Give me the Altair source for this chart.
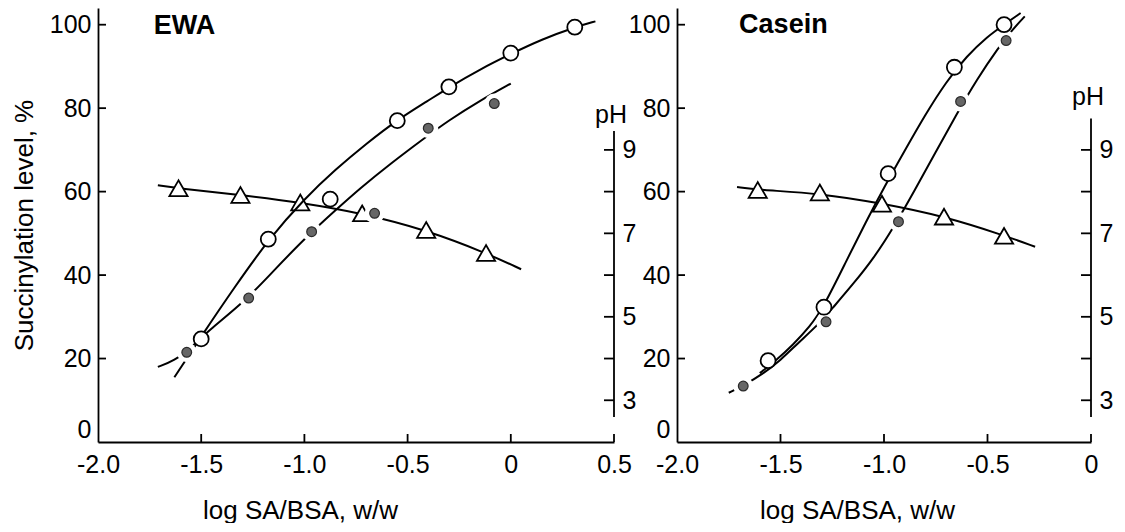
import altair as alt
import pandas as pd

FONT = "Liberation Sans"

# ---------------- EWA panel ----------------
ewa_open_x = [-1.50, -1.175, -0.875, -0.55, -0.30, 0.00, 0.31]
ewa_open_y = [24.7, 48.6, 58.2, 77.0, 85.1, 93.2, 99.4]
ewa_filled_x = [-1.57, -1.27, -0.965, -0.66, -0.40, -0.08]
ewa_filled_y = [21.5, 34.5, 50.4, 54.8, 75.2, 81.1]
ewa_tri_x = [-1.61, -1.31, -1.02, -0.72, -0.41, -0.12]
ewa_tri_ph = [8.08, 7.92, 7.74, 7.48, 7.08, 6.53]

ewa_open_curve_x = [-1.63, -1.50, -1.34, -1.17, -1.00, -0.85, -0.70, -0.55, -0.40, -0.30, -0.15, 0.00, 0.15, 0.31, 0.41]
ewa_open_curve_y = [15.5, 25.3, 37.0, 48.8, 58.3, 65.3, 71.5, 77.2, 81.8, 85.0, 89.3, 93.0, 96.5, 99.4, 100.8]
ewa_filled_curve_x = [-1.71, -1.63, -1.55, -1.47, -1.29, -1.15, -0.99, -0.85, -0.73, -0.58, -0.43, -0.30, -0.15, 0.00]
ewa_filled_curve_y = [18.0, 19.5, 22.5, 26.5, 33.6, 41.0, 49.2, 55.5, 60.8, 66.8, 72.4, 77.1, 81.8, 85.9]
ewa_ph_curve_x = [-1.71, -1.61, -1.31, -1.02, -0.72, -0.41, -0.12, 0.05]
ewa_ph_curve_y = [8.15, 8.08, 7.92, 7.74, 7.48, 7.08, 6.53, 6.14]

# ---------------- Casein panel ----------------
cas_open_x = [-1.56, -1.29, -0.98, -0.66, -0.42]
cas_open_y = [19.5, 32.3, 64.3, 89.8, 100.0]
cas_filled_x = [-1.68, -1.28, -0.93, -0.63, -0.41]
cas_filled_y = [13.4, 28.8, 52.8, 81.6, 96.2]
cas_tri_x = [-1.61, -1.31, -1.01, -0.71, -0.42]
cas_tri_ph = [8.04, 7.98, 7.71, 7.40, 6.94]

cas_open_curve_x = [-1.60, -1.52, -1.44, -1.36, -1.29, -1.18, -1.09, -1.00, -0.90, -0.80, -0.70, -0.60, -0.50, -0.42, -0.34]
cas_open_curve_y = [16.5, 19.6, 23.3, 27.5, 32.5, 43.6, 52.5, 61.0, 69.8, 78.5, 86.3, 92.5, 97.2, 100.0, 102.8]
cas_filled_curve_x = [-1.75, -1.68, -1.58, -1.50, -1.42, -1.31, -1.25, -1.15, -1.05, -0.95, -0.85, -0.75, -0.65, -0.55, -0.45, -0.38, -0.32]
cas_filled_curve_y = [11.8, 13.5, 16.5, 19.6, 23.5, 28.5, 32.0, 37.8, 44.0, 51.7, 60.5, 69.5, 78.5, 87.0, 94.3, 98.8, 102.0]
cas_ph_curve_x = [-1.71, -1.61, -1.31, -1.01, -0.71, -0.42, -0.27]
cas_ph_curve_y = [8.11, 8.04, 7.96, 7.72, 7.41, 6.95, 6.68]

# ---------------- axes / labels ----------------
y_ticks = [0, 20, 40, 60, 80, 100]
ph_ticks = [3, 4, 5, 6, 7, 8, 9]
ph_labels = [3, 5, 7, 9]
ewa_x_ticks = [-2.0, -1.5, -1.0, -0.5, 0.0, 0.5]
cas_x_ticks = [-2.0, -1.5, -1.0, -0.5, 0.0]
y_domain = [0, 104]
ph_domain = [2, 12.4]

X_LABEL_EXPR = "datum.value == 0 ? '0' : (datum.value < 0 ? '-' : '') + format(abs(datum.value), '.1f')"


def make_panel(name, xdom, x_ticks, open_x, open_y, filled_x, filled_y, tri_x, tri_ph,
               oc_x, oc_y, fc_x, fc_y, pc_x, pc_y, label_pos, ph_top, ph_label_y,
               width, y_title, title_x):
    xaxis = alt.Axis(values=x_ticks, labelExpr=X_LABEL_EXPR, labelPadding=10,
                     labelFlush=False, labelOverlap=False,
                     title="log SA/BSA, w/w", titleX=title_x, titleY=76,
                     titleAlign="center", titleBaseline="alphabetic")
    xscale = alt.Scale(domain=xdom, nice=False, zero=False)
    yaxis = alt.Axis(values=y_ticks, labelPadding=7, labelFlush=False, labelOverlap=False,
                     labelBaseline={"condition": {"test": "datum.value == 0", "value": "bottom"},
                                    "value": "middle"},
                     title=y_title if y_title else None, titlePadding=12, orient="left")
    yscale = alt.Scale(domain=y_domain, nice=False, zero=False)
    phaxis = alt.Axis(values=ph_labels, orient="right", domain=False, labelPadding=8,
                      labelFlush=False, labelOverlap=False, title=None)
    phscale = alt.Scale(domain=ph_domain, nice=False, zero=False)

    def X(f="x"):
        return alt.X(f"{f}:Q", scale=xscale, axis=xaxis)

    def XD(v):
        return alt.XDatum(v, scale=xscale, axis=xaxis)

    def Y(f="y"):
        return alt.Y(f"{f}:Q", scale=yscale, axis=yaxis)

    def YD(v):
        return alt.YDatum(v, scale=yscale, axis=yaxis)

    def P(f="ph"):
        return alt.Y(f"{f}:Q", scale=phscale, axis=phaxis)

    def PD(v):
        return alt.YDatum(v, scale=phscale, axis=phaxis)

    df_open = pd.DataFrame({"x": open_x, "y": open_y})
    df_filled = pd.DataFrame({"x": filled_x, "y": filled_y})
    df_tri = pd.DataFrame({"x": tri_x, "ph": tri_ph})
    df_oc = pd.DataFrame({"x": oc_x, "y": oc_y})
    df_fc = pd.DataFrame({"x": fc_x, "y": fc_y})
    df_pc = pd.DataFrame({"x": pc_x, "ph": pc_y})
    df_ytick = pd.DataFrame({"y": y_ticks[1:]})
    df_xtick = pd.DataFrame({"x": x_ticks[1:]})
    df_phtick = pd.DataFrame({"ph": ph_ticks})
    df_one = pd.DataFrame({"t": ["pH"]})
    df_label = pd.DataFrame({"x": [label_pos[0]], "y": [label_pos[1]], "t": [name]})

    right_edge = xdom[1]

    # ---- pH group ----
    ph_line = alt.Chart(df_pc).mark_line(interpolate="basis", color="black", strokeWidth=2).encode(
        x=X(), y=P(), order="x:Q")
    ph_axis_line = alt.Chart(df_one).mark_rule(color="black", strokeWidth=1.8).encode(
        x=XD(right_edge), y=PD(2.6), y2=alt.Y2Datum(ph_top))
    ph_tick_marks = alt.Chart(df_phtick).mark_tick(
        orient="horizontal", size=10, thickness=1.8, xOffset=-5, color="black", opacity=1).encode(
        x=XD(right_edge), y=P())
    ph_title = alt.Chart(df_one).mark_text(
        font=FONT, fontSize=25, fontWeight="normal", align="center", baseline="alphabetic",
        dx=-3, color="black").encode(
        x=XD(right_edge), y=PD(ph_label_y), text="t:N")
    tri = alt.Chart(df_tri).mark_point(
        shape="triangle-up", size=330, fill="white", stroke="black", strokeWidth=1.8, opacity=1, filled=True).encode(
        x=X(), y=P())
    ph_group = alt.layer(ph_line, tri, ph_axis_line, ph_tick_marks, ph_title)

    # ---- % group ----
    open_line = alt.Chart(df_oc).mark_line(interpolate="basis", color="black", strokeWidth=2).encode(
        x=X(), y=Y(), order="x:Q")
    filled_line = alt.Chart(df_fc).mark_line(interpolate="basis", color="black", strokeWidth=2).encode(
        x=X(), y=Y(), order="x:Q")
    halo = alt.Chart(df_filled).mark_point(
        shape="circle", size=400, fill="white", stroke="white", strokeWidth=0, opacity=1, filled=True).encode(
        x=X(), y=Y())
    open_pts = alt.Chart(df_open).mark_point(
        shape="circle", size=225, fill="white", stroke="black", strokeWidth=1.8, opacity=1, filled=True).encode(
        x=X(), y=Y())
    filled_pts = alt.Chart(df_filled).mark_point(
        shape="circle", size=95, fill="#666666", stroke="#2a2a2a", strokeWidth=1.2, opacity=1, filled=True).encode(
        x=X(), y=Y())
    y_tick_marks = alt.Chart(df_ytick).mark_tick(
        orient="horizontal", size=8, thickness=1.8, xOffset=4, color="black", opacity=1).encode(
        x=XD(xdom[0]), y=Y())
    x_tick_marks = alt.Chart(df_xtick).mark_tick(
        orient="vertical", size=8, thickness=1.8, yOffset=-4, color="black", opacity=1).encode(
        x=X(), y=YD(0))
    label = alt.Chart(df_label).mark_text(
        font=FONT, fontSize=27, fontWeight="bold", align="left", baseline="alphabetic", color="black").encode(
        x=X(), y=Y(), text="t:N")
    pct_group = alt.layer(open_line, filled_line, halo, open_pts, filled_pts,
                          y_tick_marks, x_tick_marks, label)

    return alt.layer(ph_group, pct_group).resolve_scale(y="independent").properties(
        width=width, height=434)


left = make_panel("EWA", [-2.0, 0.5], ewa_x_ticks, ewa_open_x, ewa_open_y, ewa_filled_x, ewa_filled_y,
                  ewa_tri_x, ewa_tri_ph, ewa_open_curve_x, ewa_open_curve_y,
                  ewa_filled_curve_x, ewa_filled_curve_y, ewa_ph_curve_x, ewa_ph_curve_y,
                  (-1.73, 97.8), 9.45, 9.65, 516, "Succinylation level, %", 202)
right = make_panel("Casein", [-2.0, 0.0], cas_x_ticks, cas_open_x, cas_open_y, cas_filled_x, cas_filled_y,
                   cas_tri_x, cas_tri_ph, cas_open_curve_x, cas_open_curve_y,
                   cas_filled_curve_x, cas_filled_curve_y, cas_ph_curve_x, cas_ph_curve_y,
                   (-1.70, 98.1), 9.75, 10.08, 414, None, 180)

chart = alt.hconcat(left, right, spacing=63, bounds="flush").configure_view(
    stroke=None
).configure_axis(
    domainColor="black", domainWidth=1.8, labelFont=FONT, labelFontSize=25, labelColor="black",
    titleFont=FONT, titleFontSize=26, titleFontWeight="normal", titleColor="black",
    grid=False, ticks=False, tickSize=0
).properties(background="white", padding={"left": 3, "top": 0, "right": 0, "bottom": 0})

chart.save("out.html", embed_options={"renderer": "svg", "actions": False})
